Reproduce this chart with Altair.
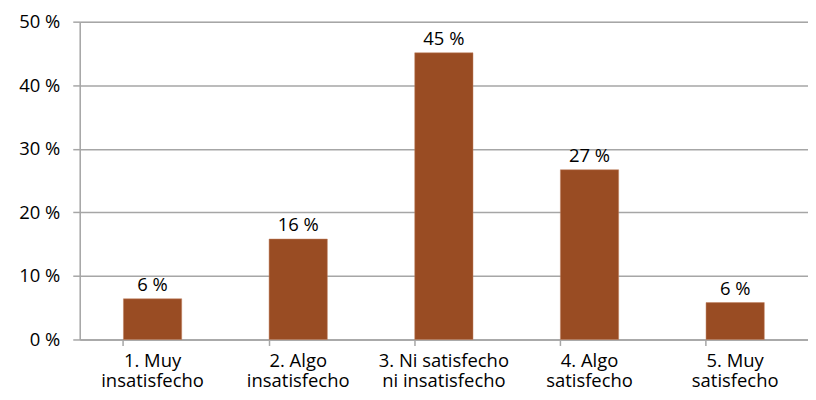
import altair as alt
import pandas as pd

categories = ["1. Muy|insatisfecho", "2. Algo|insatisfecho", "3. Ni satisfecho|ni insatisfecho",
              "4. Algo|satisfecho", "5. Muy|satisfecho"]
values = [6.4, 15.8, 45.1, 26.7, 5.8]
labels = ["6 %", "16 %", "45 %", "27 %", "6 %"]
y_ticks = [0, 10, 20, 30, 40, 50]

df = pd.DataFrame({"cat": categories, "val": values, "lab": labels})

FONT = "Open Sans"
FS = 18.5
GRID = "#A6A6A6"

x = alt.X("cat:N", sort=None, title=None,
          scale=alt.Scale(paddingInner=0.6, paddingOuter=0.3),
          axis=alt.Axis(labelAngle=0, labelExpr="split(datum.value, '|')",
                        labelFont=FONT, labelFontSize=FS, labelColor="#000000",
                        labelPadding=6, labelLineHeight=20,
                        domainColor=GRID, domainWidth=1.5,
                        tickColor=GRID, tickSize=6, tickWidth=1.5,
                        bandPosition=0, grid=False))
y = alt.Y("val:Q", title=None,
          scale=alt.Scale(domain=[0, 50], nice=False),
          axis=alt.Axis(values=y_ticks, labelExpr="datum.value + ' %'",
                        labelFont=FONT, labelFontSize=FS, labelColor="#000000",
                        labelPadding=13,
                        domainColor=GRID, domainWidth=1.5,
                        tickColor=GRID, tickSize=7, tickWidth=1.5,
                        gridColor=GRID, gridWidth=1.5))

bars = alt.Chart(df).mark_bar(color="#994C23", stroke="#C08060", strokeWidth=0.5).encode(x=x, y=y)
text = alt.Chart(df).mark_text(font=FONT, fontSize=FS, color="#000000", dy=-14).encode(
    x=alt.X("cat:N", sort=None), y="val:Q", text="lab:N")

chart = (bars + text).properties(
    width=731, height=319,
    padding={"top": 4, "left": 10, "right": 0, "bottom": 0}
).configure_view(stroke=None).configure(background="white")

chart.save("out.html", embed_options={"renderer": "svg", "actions": False})
